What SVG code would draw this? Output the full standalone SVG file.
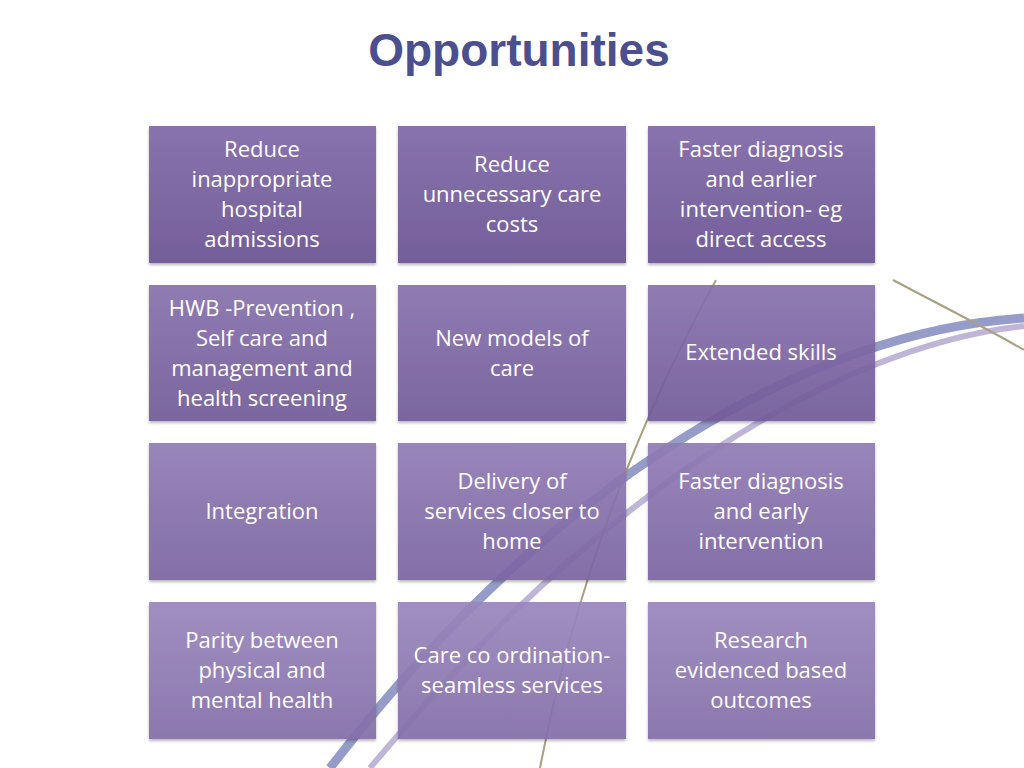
<svg xmlns="http://www.w3.org/2000/svg" width="1024" height="768" viewBox="0 0 1024 768">
<defs>
<linearGradient id="g1" x1="0" y1="0" x2="0" y2="1"><stop offset="0" stop-color="#8069a9"/><stop offset="1" stop-color="#6a5392"/></linearGradient>
<linearGradient id="g2" x1="0" y1="0" x2="0" y2="1"><stop offset="0" stop-color="#8872ae"/><stop offset="1" stop-color="#725b99"/></linearGradient>
<linearGradient id="g3" x1="0" y1="0" x2="0" y2="1"><stop offset="0" stop-color="#917cb6"/><stop offset="1" stop-color="#7b65a2"/></linearGradient>
<linearGradient id="g4" x1="0" y1="0" x2="0" y2="1"><stop offset="0" stop-color="#9a87bd"/><stop offset="1" stop-color="#836ea9"/></linearGradient>
<filter id="sh" x="-5%" y="-5%" width="110%" height="115%"><feDropShadow dx="0" dy="2" stdDeviation="1.5" flood-color="#000" flood-opacity="0.3"/></filter>
</defs>
<style>
.b{filter:url(#sh);opacity:0.93}
.t{font-family:"Open Sans","Liberation Sans",sans-serif;font-size:22px;fill:#fff;text-anchor:middle}
.title{font-family:"Liberation Sans",Arial,sans-serif;font-size:46px;font-weight:bold;fill:#4b4f8e;text-anchor:middle}
</style>
<rect width="1024" height="768" fill="#fff"/>
<g id="deco" fill="none">
<path d="M1024,318 C820,330 560,470 330,768" stroke="#6a72b0" stroke-width="9" opacity="0.7"/>
<path d="M1024,326 C840,345 600,490 370,768" stroke="#7f6cb0" stroke-width="6" opacity="0.5"/>
<path d="M716,280 C650,400 580,560 540,768" stroke="#a8a080" stroke-width="2"/>
<path d="M893,280 C940,305 990,330 1024,350" stroke="#a8a080" stroke-width="2"/>
</g>
<text class="title" x="519" y="66">Opportunities</text>
<g id="n1"><rect class="b" x="149" y="126" width="227" height="137" fill="url(#g1)"/><text class="t" x="262" y="157">Reduce<tspan x="262" dy="30">inappropriate</tspan><tspan x="262" dy="30">hospital</tspan><tspan x="262" dy="30">admissions</tspan></text></g>
<g id="n2"><rect class="b" x="398" y="126" width="228" height="137" fill="url(#g1)"/><text class="t" x="512" y="172">Reduce<tspan x="512" dy="30">unnecessary care</tspan><tspan x="512" dy="30">costs</tspan></text></g>
<g id="n3"><rect class="b" x="648" y="126" width="227" height="137" fill="url(#g1)"/><text class="t" x="761" y="157">Faster diagnosis<tspan x="761" dy="30">and earlier</tspan><tspan x="761" dy="30">intervention- eg</tspan><tspan x="761" dy="30">direct access</tspan></text></g>
<g id="n4"><rect class="b" x="149" y="285" width="227" height="136" fill="url(#g2)"/><text class="t" x="262" y="316">HWB -Prevention ,<tspan x="262" dy="30">Self care and</tspan><tspan x="262" dy="30">management  and</tspan><tspan x="262" dy="30">health screening</tspan></text></g>
<g id="n5"><rect class="b" x="398" y="285" width="228" height="136" fill="url(#g2)"/><text class="t" x="512" y="346">New models of<tspan x="512" dy="30">care</tspan></text></g>
<g id="n6"><rect class="b" x="648" y="285" width="227" height="136" fill="url(#g2)"/><text class="t" x="761" y="360">Extended skills</text></g>
<g id="n7"><rect class="b" x="149" y="443" width="227" height="137" fill="url(#g3)"/><text class="t" x="262" y="519">Integration</text></g>
<g id="n8"><rect class="b" x="398" y="443" width="228" height="137" fill="url(#g3)"/><text class="t" x="512" y="489">Delivery of<tspan x="512" dy="30">services closer to</tspan><tspan x="512" dy="30">home</tspan></text></g>
<g id="n9"><rect class="b" x="648" y="443" width="227" height="137" fill="url(#g3)"/><text class="t" x="761" y="489">Faster diagnosis<tspan x="761" dy="30">and early</tspan><tspan x="761" dy="30">intervention</tspan></text></g>
<g id="n10"><rect class="b" x="149" y="602" width="227" height="137" fill="url(#g4)"/><text class="t" x="262" y="648">Parity between<tspan x="262" dy="30">physical and</tspan><tspan x="262" dy="30">mental health</tspan></text></g>
<g id="n11"><rect class="b" x="398" y="602" width="228" height="137" fill="url(#g4)"/><text class="t" x="512" y="663">Care co ordination-<tspan x="512" dy="30">seamless services</tspan></text></g>
<g id="n12"><rect class="b" x="648" y="602" width="227" height="137" fill="url(#g4)"/><text class="t" x="761" y="648">Research<tspan x="761" dy="30">evidenced based</tspan><tspan x="761" dy="30">outcomes</tspan></text></g>
<g id="connectors"/>
</svg>
